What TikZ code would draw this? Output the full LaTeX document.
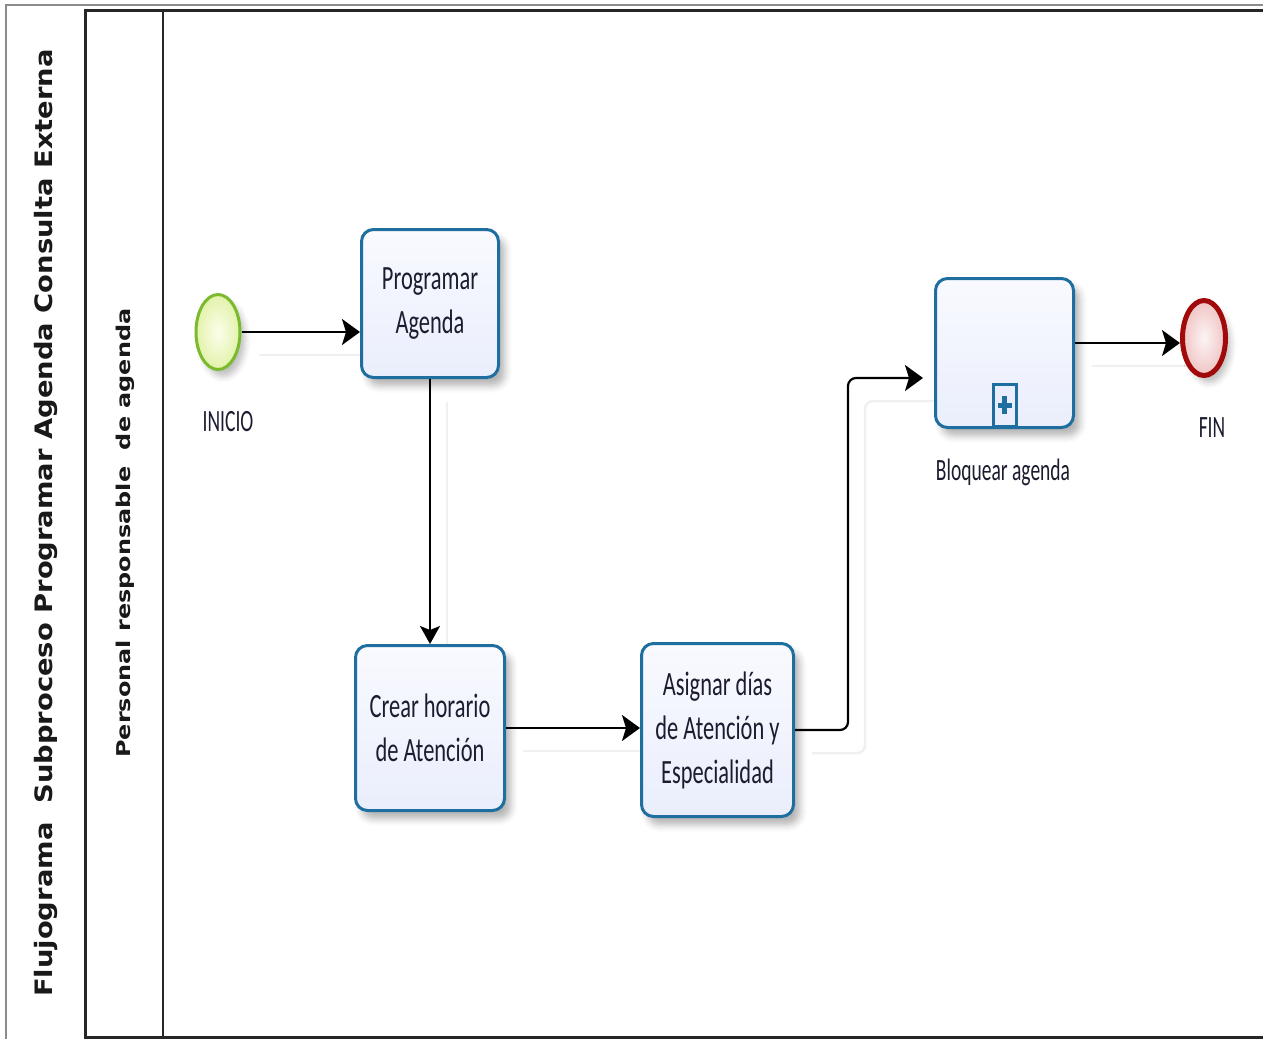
\documentclass[tikz,border=0pt]{standalone}
\usepackage{fontspec}
\setmainfont{Carlito}
\newfontfamily\taskfont[FakeStretch=0.66]{Carlito}
\newfontfamily\labelfont[FakeStretch=0.63]{Carlito}
\newfontfamily\titlefont[FakeStretch=1.14]{DejaVu Sans}
\newfontfamily\lanefont[FakeStretch=1.26]{DejaVu Sans}
\usetikzlibrary{arrows.meta,shapes.geometric,shadows.blur,calc}
\pgfdeclarelayer{bg}
\pgfsetlayers{bg,main}
\definecolor{taskblue}{RGB}{30,110,160}
\definecolor{tasktop}{RGB}{249,250,255}
\definecolor{taskbot}{RGB}{234,238,252}
\definecolor{txt}{RGB}{28,28,48}
\definecolor{startg}{RGB}{122,186,44}
\definecolor{starti}{RGB}{252,254,235}
\definecolor{starto}{RGB}{226,242,170}
\definecolor{endr}{RGB}{160,10,10}
\definecolor{endi}{RGB}{253,244,244}
\definecolor{endo}{RGB}{240,196,196}
\tikzset{
  tasknode/.style={draw=taskblue, line width=3pt, top color=tasktop, bottom color=taskbot,
    rounded corners=12pt, align=center, inner sep=0pt, text=txt,
    font=\taskfont\fontsize{34}{44}\selectfont,
    blur shadow={shadow xshift=6pt, shadow yshift=-8pt, shadow blur radius=7pt, shadow opacity=30}},
  eventlabel/.style={text=txt, font=\labelfont\fontsize{31}{36}\selectfont, inner sep=0pt},
  flow/.style={draw=black, line width=2.2pt, -{Stealth[length=18pt,width=26pt,inset=4pt]}},
  flowv/.style={draw=black, line width=1.8pt, -{Stealth[length=18pt,width=20pt,inset=4pt]}},
  connshadow/.style={draw=black!6, line width=2.5pt, transform canvas={xshift=17pt,yshift=-23pt}},
  poolgrey/.style={draw=black!45, line width=2pt},
  pooldark/.style={draw=black!85, line width=3pt},
}
\begin{document}
\begin{tikzpicture}[x=1pt,y=-1pt]
\useasboundingbox (0,0) rectangle (1263,1039);
% pool frame
\draw[poolgrey] (5,5) -- (1263,5);
\draw[poolgrey] (6,5) -- (6,1039);
\draw[pooldark] (1263,10) -- (85,10) -- (85,1037) -- (1263,1037);
\draw[draw=black!85, line width=2pt] (163,10) -- (163,1037);
% titles
\node[rotate=90, text=black!90, font=\titlefont\bfseries\fontsize{24}{28}\selectfont, inner sep=0pt]
  (pooltitle) at (46,523) {Flujograma\ \ Subproceso Programar Agenda Consulta Externa};
\node[rotate=90, text=black!90, font=\lanefont\bfseries\fontsize{19}{22}\selectfont, inner sep=0pt]
  (lanetitle) at (125,533) {Personal responsable\ \ de agenda};
% events
\node[ellipse, draw=startg, line width=3pt, inner color=starti, outer color=starto,
  minimum width=44pt, minimum height=75pt, inner sep=0pt,
  blur shadow={shadow xshift=5pt, shadow yshift=-7pt, shadow blur radius=6pt, shadow opacity=25}] (ini) at (218,332) {};
\node[eventlabel] (inilbl) at (228,422) {INICIO};
\node[ellipse, draw=endr, line width=5pt, inner color=endi, outer color=endo,
  minimum width=43pt, minimum height=75pt, inner sep=0pt,
  blur shadow={shadow xshift=5pt, shadow yshift=-7pt, shadow blur radius=6pt, shadow opacity=25}] (fin) at (1204,338) {};
\node[eventlabel] (finlbl) at (1212,428) {FIN};
% tasks
\node[tasknode, minimum width=137pt, minimum height=148pt] (prog) at (430,303.5) {Programar\\Agenda};
\node[tasknode, minimum width=149pt, minimum height=165pt] (crear) at (430,728) {Crear horario\\de Atención};
\node[tasknode, minimum width=152pt, minimum height=173pt] (asig) at (717.5,730) {Asignar días\\de Atención y\\Especialidad};
\node[tasknode, minimum width=138pt, minimum height=149pt] (bloq) at (1004.5,353) {};
\node[draw=taskblue, line width=3pt, fill=taskbot, minimum width=23pt, minimum height=42pt,
  inner sep=0pt, anchor=south] (mk) at ($(bloq.south)+(0,-1.5)$) {};
\fill[taskblue] ($(mk.center)+(-7,-2.5)$) rectangle ($(mk.center)+(7,2.5)$);
\fill[taskblue] ($(mk.center)+(-2.5,-9)$) rectangle ($(mk.center)+(2.5,9)$);
\node[eventlabel] (bloqlbl) at (1003,472) {Bloquear agenda};
% connectors
\draw[flow] (ini.east) -- (ini.east -| prog.west);
\draw[flowv] (prog.south) -- (crear.north);
\draw[flow] (crear.east) -- (crear.east -| asig.west);
\draw[flow, rounded corners=8pt, shorten >=11pt] (asig.east) -- ++(53,0) |- ($(bloq.west)+(0,25)$);
\draw[flow] ([yshift=10pt]bloq.east) -- ([yshift=10pt]bloq.east -| fin.west);
% faint connector shadows
\begin{pgfonlayer}{bg}
\draw[connshadow] (ini.east) -- (ini.east -| prog.west);
\draw[connshadow] (prog.south) -- (crear.north);
\draw[connshadow] (crear.east) -- (crear.east -| asig.west);
\draw[connshadow, rounded corners=8pt, shorten >=11pt] (asig.east) -- ++(53,0) |- ($(bloq.west)+(0,25)$);
\draw[connshadow] ([yshift=10pt]bloq.east) -- ([yshift=10pt]bloq.east -| fin.west);
\end{pgfonlayer}
\end{tikzpicture}
\end{document}
